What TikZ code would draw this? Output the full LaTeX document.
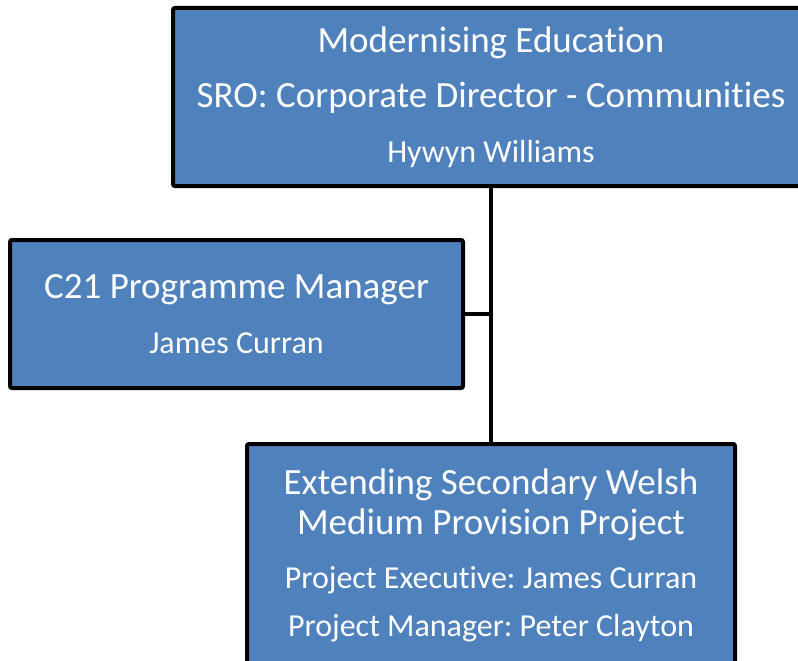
\documentclass[tikz,border=0pt]{standalone}
\usepackage{fontspec}
\setmainfont[Ligatures=NoCommon]{Carlito}
\usetikzlibrary{positioning}
\definecolor{orgblue}{RGB}{79,129,189}
\frenchspacing

\begin{document}
\begin{tikzpicture}[x=1pt, y=-1pt,
    % Styles
    orgbox/.style={draw=black, fill=orgblue, line width=4pt, rounded corners=2pt, text=white, align=center, inner sep=0pt, font=\fontsize{37}{55}\selectfont},
    link/.style={line width=4pt, black},
]
\clip (0,0) rectangle (798,661);

% Top box
\node[orgbox, minimum width=636, minimum height=178] (sro) at (491, 97)
    {Modernising Education\\SRO: Corporate Director - Communities\\{\fontsize{32}{40}\selectfont Hywyn Williams}};

% Left box
\node[orgbox, minimum width=453, minimum height=148] (manager) at (236.5, 314)
    {C21 Programme Manager\\{\fontsize{32}{40}\selectfont James Curran}};

% Bottom box
\node[orgbox, minimum width=488, minimum height=222, font=\fontsize{37}{40}\selectfont] (project) at (491, 555)
    {Extending Secondary Welsh\\Medium Provision Project\\[14pt]{\fontsize{32}{40}\selectfont Project Executive: James Curran}\\[8pt]{\fontsize{32}{40}\selectfont Project Manager: Peter Clayton}};

% Connectors
\draw[link] (sro.south) -- (project.north);
\draw[link] (manager.east) -- (manager.east -| sro.south);

\end{tikzpicture}
\end{document}
